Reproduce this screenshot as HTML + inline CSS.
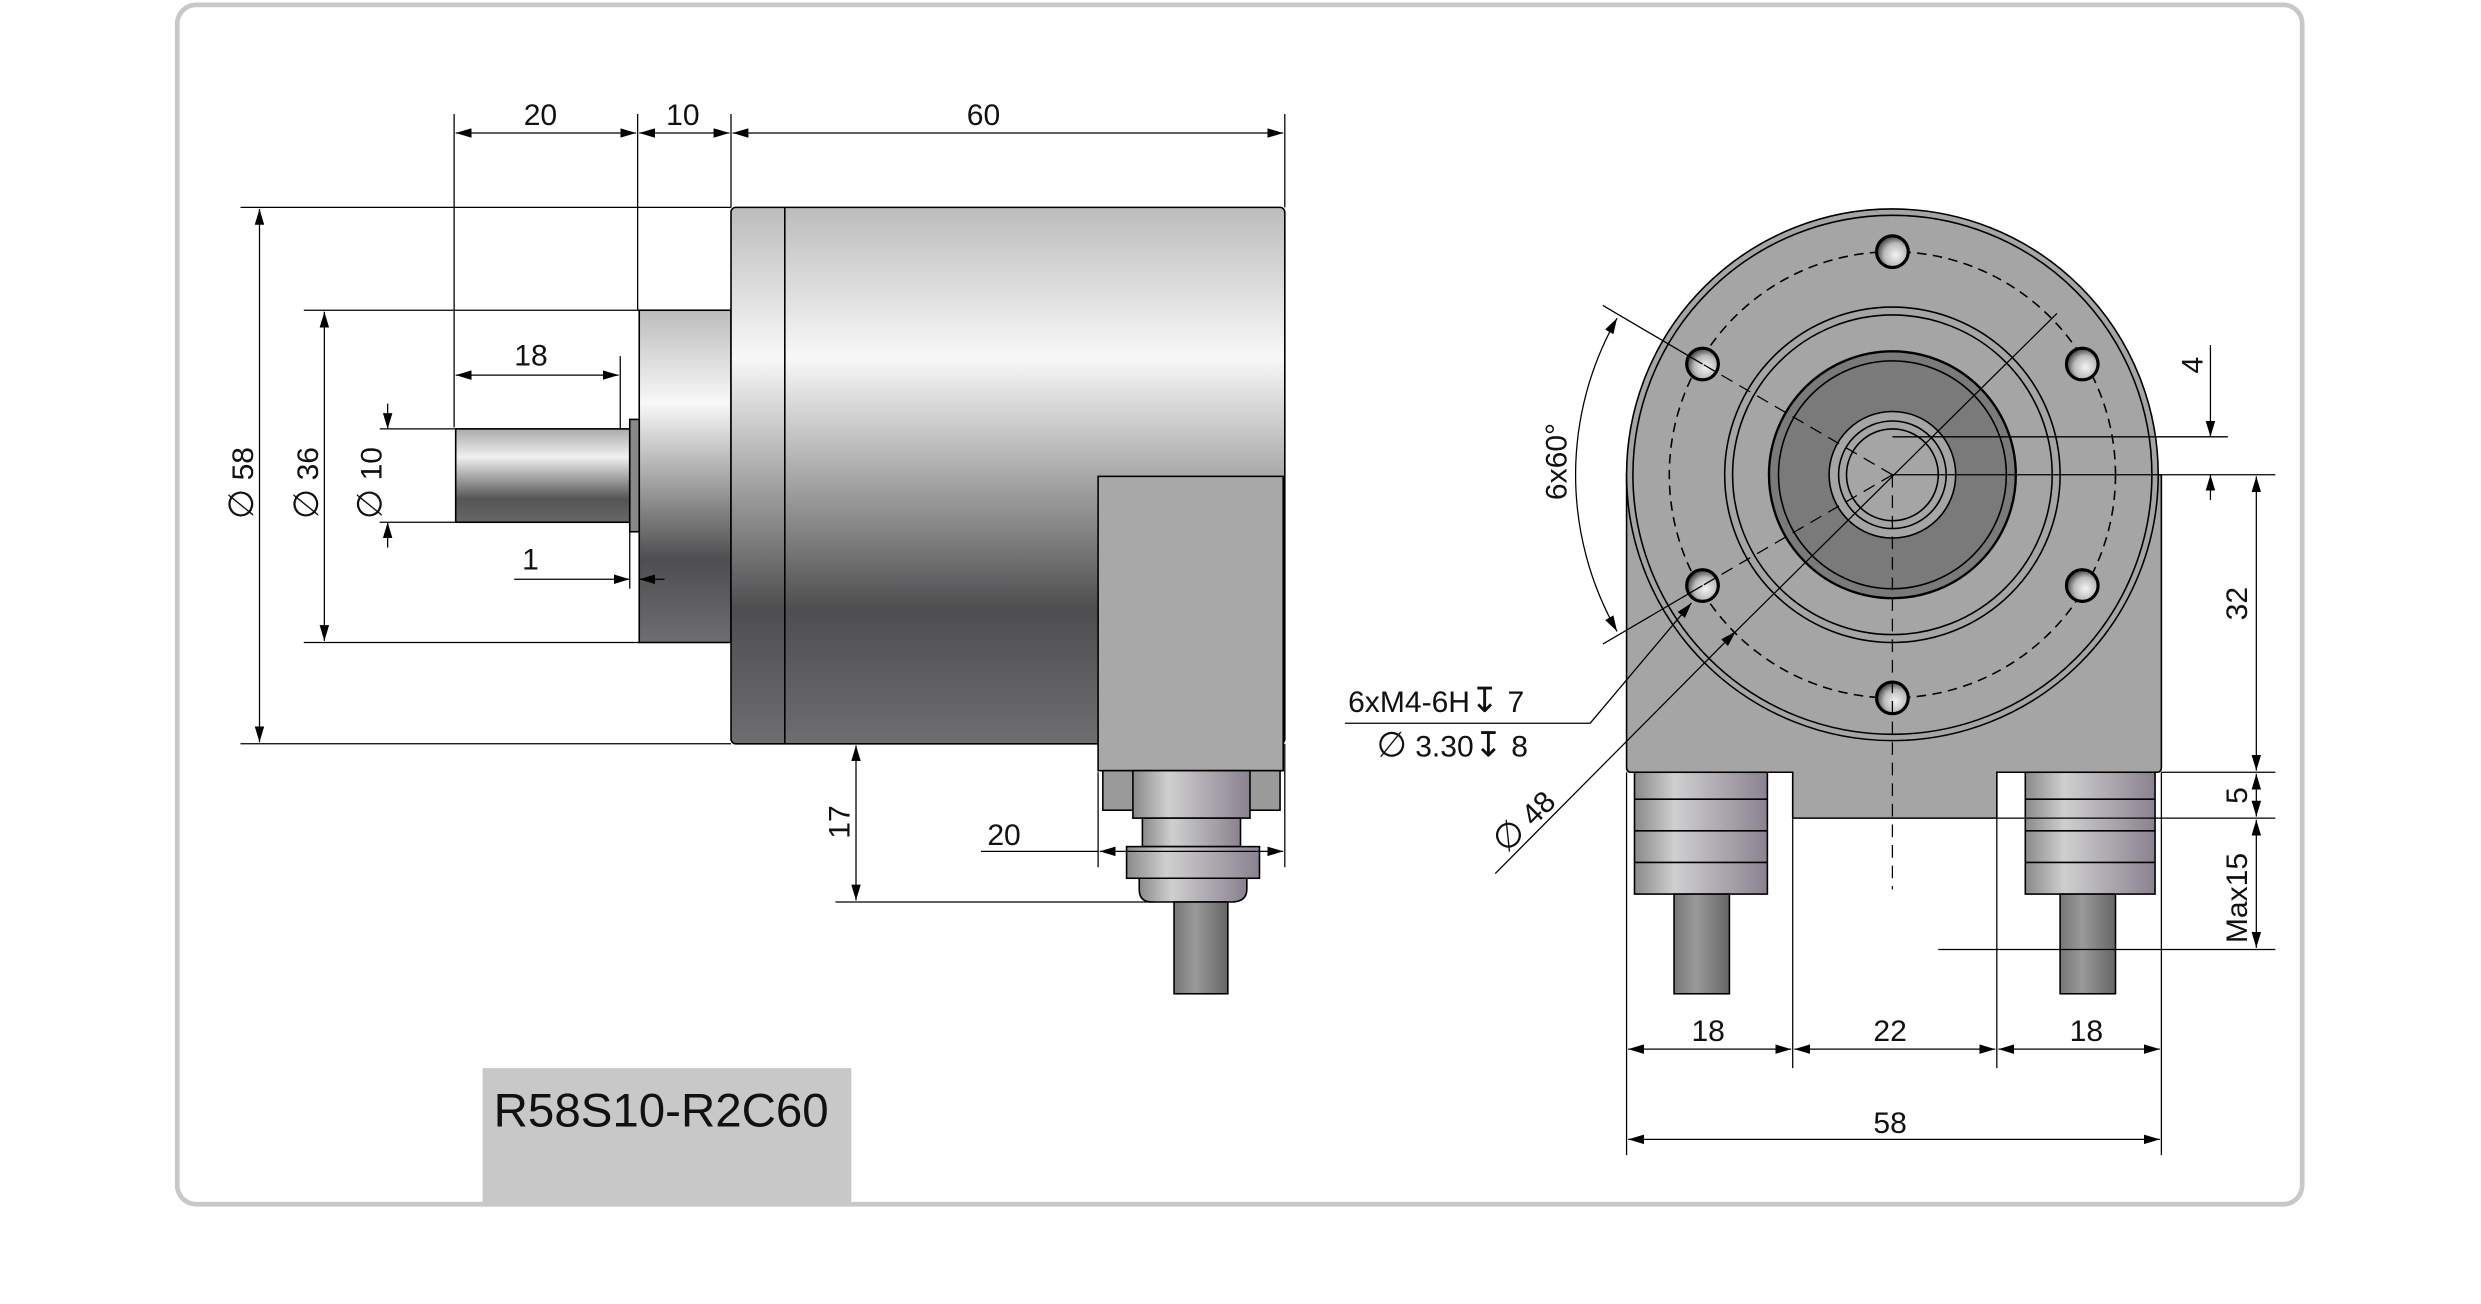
<!DOCTYPE html>
<html><head><meta charset="utf-8"><style>
html,body{margin:0;padding:0;background:#fff;}
svg{display:block}
text{font-family:"Liberation Sans","DejaVu Sans",sans-serif;fill:#111}
.d{font-family:"DejaVu Sans",sans-serif;font-size:22px}
</style></head><body>
<svg width="2481" height="1304" viewBox="0 0 1568 824" xmlns="http://www.w3.org/2000/svg">
<defs>
<linearGradient id="body" x1="0" y1="0" x2="0" y2="1">
<stop offset="0" stop-color="#bcbcbc"/><stop offset="0.28" stop-color="#f8f8f8"/><stop offset="0.48" stop-color="#b0b0b0"/><stop offset="0.75" stop-color="#4e4e50"/><stop offset="1" stop-color="#6e6e70"/></linearGradient>
<linearGradient id="shaft" x1="0" y1="0" x2="0" y2="1">
<stop offset="0" stop-color="#aaa"/><stop offset="0.3" stop-color="#f0f0f0"/><stop offset="0.75" stop-color="#555"/><stop offset="1" stop-color="#666"/></linearGradient>
<linearGradient id="gland" x1="0" y1="0" x2="1" y2="0">
<stop offset="0" stop-color="#8a8a8a"/><stop offset="0.3" stop-color="#cfcfcf"/><stop offset="1" stop-color="#8a8290"/></linearGradient>
<linearGradient id="cable" x1="0" y1="0" x2="1" y2="0">
<stop offset="0" stop-color="#777"/><stop offset="0.4" stop-color="#999"/><stop offset="1" stop-color="#666"/></linearGradient>
<radialGradient id="hole" cx="0.6" cy="0.6" r="0.6">
<stop offset="0" stop-color="#f4f4f4"/><stop offset="0.6" stop-color="#bbb"/><stop offset="1" stop-color="#444"/></radialGradient>
<marker id="a" viewBox="0 0 10 6" refX="10" refY="3" markerWidth="10" markerHeight="6" orient="auto-start-reverse" markerUnits="userSpaceOnUse"><path d="M0,0 L10,3 L0,6z" fill="#000"/></marker>
</defs>
<rect x="112" y="3" width="1343" height="758" rx="12" fill="none" stroke="#c8c8c8" stroke-width="3"/>
<rect x="305" y="675" width="233" height="85" fill="#c8c8c8"/>
<text x="312" y="712" font-size="30">R58S10-R2C60</text>

<g stroke="#000" stroke-width="1" fill="none">
<rect x="404" y="196" width="58" height="210" fill="url(#body)"/>
<rect x="288" y="271" width="110" height="59" fill="url(#shaft)"/>
<rect x="398" y="265" width="6" height="71" fill="#888"/>
<rect x="462" y="131" width="350" height="339" rx="3" fill="url(#body)"/>
<line x1="496" y1="131" x2="496" y2="470"/>
<rect x="694" y="301" width="117" height="186" fill="#a8a8a8"/>
<rect x="697" y="487" width="112" height="25" fill="#9a9a9a"/>
<rect x="716" y="487" width="74" height="30" fill="url(#gland)"/>
<rect x="722" y="517" width="62" height="18" fill="url(#gland)"/>
<rect x="712" y="535" width="84" height="20" fill="url(#gland)"/>
<path d="M720,555 L788,555 L788,562 Q788,570 778,570 L728,570 Q720,570 720,562z" fill="url(#gland)"/>
<rect x="742" y="570" width="34" height="58" fill="url(#cable)"/>

<g stroke-width="0.8">
<line x1="287" y1="72" x2="287" y2="270"/><line x1="403" y1="72" x2="403" y2="196"/>
<line x1="462" y1="72" x2="462" y2="131"/><line x1="812" y1="72" x2="812" y2="131"/>
<line x1="288" y1="84" x2="402" y2="84" marker-start="url(#a)" marker-end="url(#a)"/>
<line x1="404" y1="84" x2="461" y2="84" marker-start="url(#a)" marker-end="url(#a)"/>
<line x1="463" y1="84" x2="811" y2="84" marker-start="url(#a)" marker-end="url(#a)"/>
<line x1="152" y1="131" x2="462" y2="131"/><line x1="152" y1="470" x2="462" y2="470"/>
<line x1="164" y1="132" x2="164" y2="469" marker-start="url(#a)" marker-end="url(#a)"/>
<line x1="192" y1="196" x2="404" y2="196"/><line x1="192" y1="406" x2="404" y2="406"/>
<line x1="205" y1="197" x2="205" y2="405" marker-start="url(#a)" marker-end="url(#a)"/>
<line x1="240" y1="271" x2="398" y2="271"/><line x1="240" y1="330" x2="288" y2="330"/>
<line x1="245" y1="255" x2="245" y2="271" marker-end="url(#a)"/><line x1="245" y1="346" x2="245" y2="330" marker-end="url(#a)"/>
<line x1="392" y1="225" x2="392" y2="271"/>
<line x1="288" y1="237" x2="391" y2="237" marker-start="url(#a)" marker-end="url(#a)"/>
<line x1="398" y1="336" x2="398" y2="372"/>
<line x1="325" y1="366" x2="398" y2="366" marker-end="url(#a)"/><line x1="420" y1="366" x2="404" y2="366" marker-end="url(#a)"/>
<line x1="541" y1="471" x2="541" y2="569" marker-start="url(#a)" marker-end="url(#a)"/>
<line x1="528" y1="570" x2="730" y2="570"/>
<line x1="694" y1="488" x2="694" y2="548"/><line x1="812" y1="470" x2="812" y2="548"/>
<line x1="620" y1="538" x2="694" y2="538"/>
<line x1="695" y1="538" x2="811" y2="538" marker-start="url(#a)" marker-end="url(#a)"/>
</g>

<path d="M1028,300 L1028,485 Q1028,488 1031,488 L1133,488 L1133,517 L1262,517 L1262,488 L1363,488 Q1366,488 1366,485 L1366,300z" fill="#a5a5a5"/>
<rect x="1033" y="488" width="84" height="77" fill="url(#gland)"/>
<line x1="1033" y1="505" x2="1117" y2="505"/><line x1="1033" y1="525" x2="1117" y2="525"/><line x1="1033" y1="545" x2="1117" y2="545"/>
<rect x="1058" y="565" width="35" height="63" fill="url(#cable)"/>
<rect x="1280" y="488" width="82" height="77" fill="url(#gland)"/>
<line x1="1280" y1="505" x2="1362" y2="505"/><line x1="1280" y1="525" x2="1362" y2="525"/><line x1="1280" y1="545" x2="1362" y2="545"/>
<rect x="1302" y="565" width="35" height="63" fill="url(#cable)"/>
<circle cx="1196" cy="300" r="168" fill="#a5a5a5"/>
<circle cx="1196" cy="300" r="164"/>
<circle cx="1196" cy="300" r="141" stroke-dasharray="6,4"/>
<circle cx="1196" cy="300" r="106"/><circle cx="1196" cy="300" r="101"/>
<circle cx="1196" cy="300" r="78" fill="#7a7a7a" stroke-width="1.5"/>
<circle cx="1196" cy="300" r="72"/>
<circle cx="1196" cy="300" r="40" fill="#a5a5a5"/>
<circle cx="1196" cy="300" r="34"/><circle cx="1196" cy="300" r="29" fill="#a5a5a5"/>
<g fill="url(#hole)" stroke-width="2">
<circle cx="1196" cy="159" r="10"/><circle cx="1196" cy="441" r="10"/>
<circle cx="1076" cy="230" r="10"/><circle cx="1316" cy="230" r="10"/>
<circle cx="1076" cy="370" r="10"/><circle cx="1316" cy="370" r="10"/>
</g>
<g stroke-width="0.8">
<line x1="1196" y1="300" x2="1196" y2="562" stroke-dasharray="8,5"/>
<line x1="1196" y1="300" x2="1076" y2="230" stroke-dasharray="8,5"/>
<line x1="1196" y1="300" x2="1076" y2="370" stroke-dasharray="8,5"/>
<line x1="1076" y1="230" x2="1013" y2="193"/><line x1="1076" y1="370" x2="1013" y2="407"/>
<path d="M1022,201 A200,200 0 0 0 1022,399" marker-start="url(#a)" marker-end="url(#a)"/>
<line x1="945" y1="552" x2="1097" y2="399" marker-end="url(#a)"/>
<line x1="1097" y1="399" x2="1300" y2="198"/>
<polyline points="850,457 1005,457 1069,381" marker-end="url(#a)"/>
<line x1="1196" y1="276" x2="1408" y2="276"/>
<line x1="1196" y1="300" x2="1438" y2="300"/>
<line x1="1366" y1="488" x2="1438" y2="488"/><line x1="1262" y1="517" x2="1438" y2="517"/>
<line x1="1225" y1="600" x2="1438" y2="600"/>
<line x1="1397" y1="218" x2="1397" y2="276" marker-end="url(#a)"/>
<line x1="1397" y1="316" x2="1397" y2="300" marker-end="url(#a)"/>
<line x1="1426" y1="301" x2="1426" y2="487" marker-start="url(#a)" marker-end="url(#a)"/>
<line x1="1426" y1="489" x2="1426" y2="516" marker-start="url(#a)" marker-end="url(#a)"/>
<line x1="1426" y1="518" x2="1426" y2="599" marker-start="url(#a)" marker-end="url(#a)"/>
<line x1="1028" y1="488" x2="1028" y2="730"/><line x1="1133" y1="517" x2="1133" y2="675"/>
<line x1="1262" y1="517" x2="1262" y2="675"/><line x1="1366" y1="488" x2="1366" y2="730"/>
<line x1="1029" y1="663" x2="1132" y2="663" marker-start="url(#a)" marker-end="url(#a)"/>
<line x1="1134" y1="663" x2="1261" y2="663" marker-start="url(#a)" marker-end="url(#a)"/>
<line x1="1263" y1="663" x2="1365" y2="663" marker-start="url(#a)" marker-end="url(#a)"/>
<line x1="1029" y1="720" x2="1365" y2="720" marker-start="url(#a)" marker-end="url(#a)"/>
</g>
</g>

<g font-size="19">
<text x="331" y="79">20</text><text x="421" y="79">10</text><text x="611" y="79">60</text>
<text x="325" y="231">18</text><text x="330" y="360">1</text>
<text x="624" y="534">20</text>
<text transform="translate(160,328) rotate(-90)"><tspan class="d">∅</tspan> 58</text>
<text transform="translate(201,328) rotate(-90)"><tspan class="d">∅</tspan> 36</text>
<text transform="translate(241,328) rotate(-90)"><tspan class="d">∅</tspan> 10</text>
<text transform="translate(537,530) rotate(-90)">17</text>
<text x="1069" y="658">18</text><text x="1184" y="658">22</text><text x="1308" y="658">18</text>
<text x="1184" y="716">58</text>
<text x="852" y="450">6xM4-6H<tspan class="d" font-size="19">↧</tspan> 7</text>
<text x="870" y="478"><tspan class="d">∅</tspan> 3.30<tspan class="d" font-size="19">↧</tspan> 8</text>
<text transform="translate(952,540) rotate(-45)"><tspan class="d">∅</tspan> 48</text>
<text transform="translate(990,316) rotate(-90)">6x60°</text>
<text transform="translate(1392,236) rotate(-90)">4</text>
<text transform="translate(1420,392) rotate(-90)">32</text>
<text transform="translate(1420,508) rotate(-90)">5</text>
<text transform="translate(1420,596) rotate(-90)">Max15</text>
</g>
</svg>
</body></html>
